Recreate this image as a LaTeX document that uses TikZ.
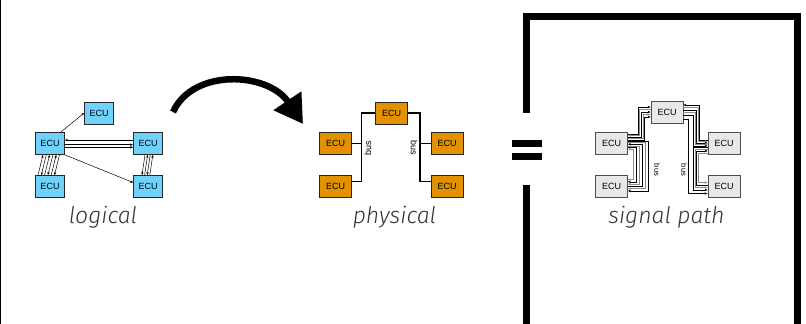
\documentclass[tikz,border=0pt]{standalone}
\usepackage{fontspec}
\setsansfont{Liberation Sans}
\newfontfamily\captfont{Fira Sans Light Italic}
\usetikzlibrary{arrows.meta}
\definecolor{logblue}{RGB}{112,210,252}
\definecolor{phyorange}{RGB}{226,146,0}
\definecolor{siggray}{RGB}{232,232,232}
\tikzset{
  ecu/.style={draw=black!85, line width=0.8pt, font=\sffamily\fontsize{9}{10}\selectfont,
    minimum width=32pt, minimum height=22pt, inner sep=0pt},
  logecu/.style={ecu, fill=logblue, minimum width=29pt},
  phyecu/.style={ecu, fill=phyorange},
  sigecu/.style={ecu, fill=siggray, draw=black!70},
  caption/.style={font=\captfont\fontsize{23}{23}\selectfont, text=black!80, anchor=base},
  wire/.style={line width=0.5pt, draw=#1}, wire/.default=black,
  fwd/.style={-{Stealth[length=3pt,width=2.5pt]}},
  bwd/.style={{Stealth[length=3pt,width=2.5pt]}-},
  bus/.style={line width=1.3pt},
  buslabel/.style={font=\sffamily\fontsize{#1}{#1}\selectfont, inner sep=0pt},
  bigframe/.style={line width=7pt}
}
\begin{document}
\begin{tikzpicture}[x=1pt, y=-1pt]
  \useasboundingbox (0,0) rectangle (806,324);
  \draw[line width=1.2pt] (0.6,0) -- (0.6,324);

  % logical
  \node[logecu] (logTop) at (99,113) {ECU};
  \node[logecu] (logLM) at (50,143.5) {ECU};
  \node[logecu] (logRM) at (148,143.5) {ECU};
  \node[logecu] (logLB) at (50,186.5) {ECU};
  \node[logecu] (logRB) at (148,186.5) {ECU};
  \draw[wire, fwd] ([xshift=-4pt]logLM.north east) -- (logTop.west);
  \draw[wire, bwd] ([yshift=3.5pt]logLM.east) -- ([yshift=3.5pt]logRM.west);
  \draw[wire, fwd] ([yshift=-1.2pt]logLM.east) -- ([yshift=-1.2pt]logRM.west);
  \draw[wire, fwd] ([yshift=-3.8pt]logLM.east) -- ([yshift=-3.8pt]logRM.west);
  \draw[wire, fwd] (logLM.south east) -- ([yshift=4pt]logRB.west);
  \foreach \i [evaluate=\i as \xa using -12+3.3*\i, evaluate=\i as \xb using -7+3.3*\i] in {0,2,4}
    \draw[wire, fwd] ([xshift=\xa pt]logLB.north) -- ([xshift=\xb pt]logLM.south);
  \foreach \i [evaluate=\i as \xa using -12+3.3*\i, evaluate=\i as \xb using -7+3.3*\i] in {1,3,5}
    \draw[wire, fwd] ([xshift=\xb pt]logLM.south) -- ([xshift=\xa pt]logLB.north);
  \foreach \i/\d [evaluate=\i as \xa using -6+2.6*\i, evaluate=\i as \xb using -3+2.6*\i] in {0/fwd,1/bwd,2/fwd,3/bwd}
    \draw[wire, \d] ([xshift=\xb pt]logRM.south) -- ([xshift=\xa pt]logRB.north);
  \node[caption] (logCap) at (103,223) {logical};

  \coordinate (arrowFrom) at (173,112);
  \coordinate (arrowTo) at (303,124);
  \draw[line width=6.5pt, -{Triangle[length=28pt,width=32pt]}]
    (arrowFrom) .. controls (193,68) and (268,72) .. (arrowTo);

  % physical
  \node[phyecu] (phyTop) at (391.5,113) {ECU};
  \node[phyecu] (phyLM) at (335.5,143.5) {ECU};
  \node[phyecu] (phyLB) at (335.5,186.5) {ECU};
  \node[phyecu] (phyRM) at (447,143.5) {ECU};
  \node[phyecu] (phyRB) at (447,186.5) {ECU};
  \coordinate (busL) at (361.7,113);
  \coordinate (busR) at (420,113);
  \draw[bus] (phyTop.west) -- (busL) |- ([yshift=5pt]phyLB.east);
  \draw[bus] (phyLM.east) -- (phyLM.east -| busL);
  \draw[bus] (phyTop.east) -- (busR) |- ([yshift=5pt]phyRB.west);
  \draw[bus] (phyRM.west) -- (phyRM.west -| busR);
  \node[buslabel=9, rotate=90] (phyBusL) at (368,148) {bus};
  \node[buslabel=9, rotate=-90] (phyBusR) at (414,148) {bus};
  \node[caption] (phyCap) at (394.5,223) {physical};

  % equals and frame
  \fill (512,140) rectangle (542,147);
  \fill (512,153) rectangle (542,160);
  \draw[bigframe] (526.5,113) -- (526.5,16) -- (797,16) -- (797,330);
  \draw[bigframe] (526.5,185) -- (526.5,330);

  % signal path
  \node[sigecu] (sigTop) at (667,112.5) {ECU};
  \node[sigecu] (sigLM) at (611.5,143.5) {ECU};
  \node[sigecu] (sigLB) at (611.5,186.5) {ECU};
  \node[sigecu] (sigRM) at (724,143.5) {ECU};
  \node[sigecu] (sigRB) at (724,186.5) {ECU};
  \foreach \i/\c/\d [evaluate=\i as \ys using 9.5-1.5*\i, evaluate=\i as \dx using 10+1.7*\i,
      evaluate=\i as \ye using 5.5-2.5*\i]
      in {0/black/fwd, 1/black!45/bwd, 2/black/fwd, 3/black!45/fwd, 4/black/fwd}
    \draw[wire=\c, \d] ([yshift=\ys pt]sigLM.east) -- ++(\dx,0) |- ([yshift=\ye pt]sigTop.west);
  \foreach \i/\c/\d [evaluate=\i as \ys using 2.5-1.6*\i, evaluate=\i as \dx using 20-3*\i,
      evaluate=\i as \ye using -4.5+2.3*\i]
      in {0/black/fwd, 1/black!45/fwd, 2/black/bwd, 3/black!45/fwd, 4/black/fwd, 5/black!45/bwd}
    \draw[wire=\c, \d] ([yshift=\ys pt]sigLM.east) -- ++(\dx,0) |- ([yshift=\ye pt]sigLB.east);
  \foreach \i/\c/\d [evaluate=\i as \ys using 7.5-2.5*\i, evaluate=\i as \dx using 16-1.5*\i,
      evaluate=\i as \ye using 3.5-1.5*\i]
      in {0/black/bwd, 1/black!45/fwd, 2/black/fwd, 3/black!45/fwd, 4/black/fwd}
    \draw[wire=\c, \d] ([yshift=\ys pt]sigTop.east) -- ++(\dx,0) |- ([yshift=\ye pt]sigRM.west);
  \draw[wire, fwd] ([yshift=-6.5pt]sigTop.east) -- ++(5,0) |- ([yshift=-7pt]sigRB.west);
  \foreach \i/\c/\d [evaluate=\i as \ys using -3.5-2*\i, evaluate=\i as \dx using 14-1.5*\i,
      evaluate=\i as \ye using -3.5+2.5*\i]
      in {0/black/fwd, 1/black!45/fwd, 2/black/bwd, 3/black!45/fwd}
    \draw[wire=\c, \d] ([yshift=\ys pt]sigRM.west) -- ++(-\dx,0) |- ([yshift=\ye pt]sigRB.west);
  \node[buslabel=7.5, rotate=-90] (sigBusL) at (657,170) {bus};
  \node[buslabel=7.5, rotate=-90] (sigBusR) at (684,170) {bus};
  \node[caption] (sigCap) at (666.5,223) {signal path};
\end{tikzpicture}
\end{document}
